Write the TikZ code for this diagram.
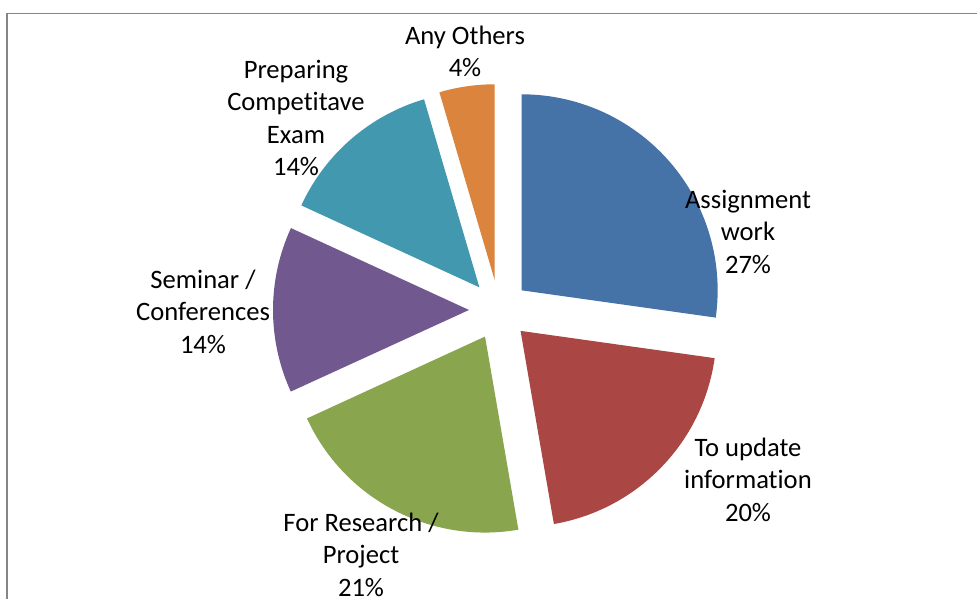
\documentclass[tikz,border=0pt]{standalone}
\usepackage{fontspec}
\setmainfont[Ligatures=NoCommon]{Carlito}
\usetikzlibrary{calc}
\definecolor{cblue}{HTML}{4572A7}
\definecolor{cred}{HTML}{AA4643}
\definecolor{cgreen}{HTML}{89A54E}
\definecolor{cpurple}{HTML}{71588F}
\definecolor{cteal}{HTML}{4198AF}
\definecolor{corange}{HTML}{DB843D}
\definecolor{framegray}{HTML}{858585}
\begin{document}
\begin{tikzpicture}[x=1pt,y=1pt,
  lbl/.style={align=center,inner sep=0pt,font=\fontsize{26.6}{32.5}\selectfont,text=black},
  framestyle/.style={draw=framegray,line width=1.9pt}]
\useasboundingbox (0,0) rectangle (977,-599);
\fill[white] (0,0) rectangle (977,-599);
% frame (top and left edges visible)
\draw[framestyle] (7.3,-599) -- (7.3,-13.5) -- (977,-13.5);
% pie
\def\cx{499}\def\cy{-310}\def\dd{30}\def\rr{196}
\newcommand\pieslice[3]{%
  \pgfmathsetmacro\bis{(#1+#2)/2}
  \fill[#3] ($(\cx,\cy)+(\bis:\dd)$) -- ++(#1:\rr) arc[start angle=#1,end angle=#2,radius=\rr] -- cycle;}
\pieslice{-8}{90}{cblue}
\pieslice{-80.2}{-8}{cred}
\pieslice{-155.3}{-80.2}{cgreen}
\pieslice{155.3}{204.6}{cpurple}
\pieslice{106.4}{155.3}{cteal}
\pieslice{90}{106.4}{corange}
% labels
\node[lbl] (lassign) at (748,-231.5) {Assignment\\work\\27\%};
\node[lbl] (lupdate) at (748,-479.5) {To update\\information\\20\%};
\node[lbl] (lresearch) at (361,-554.5) {For Research /\\Project\\21\%};
\node[lbl] (lseminar) at (203,-311.5) {Seminar /\\Conferences\\14\%};
\node[lbl] (lprep) at (296,-118) {Preparing\\Competitave\\Exam\\14\%};
\node[lbl] (lothers) at (465,-51.5) {Any Others\\4\%};
\end{tikzpicture}
\end{document}
